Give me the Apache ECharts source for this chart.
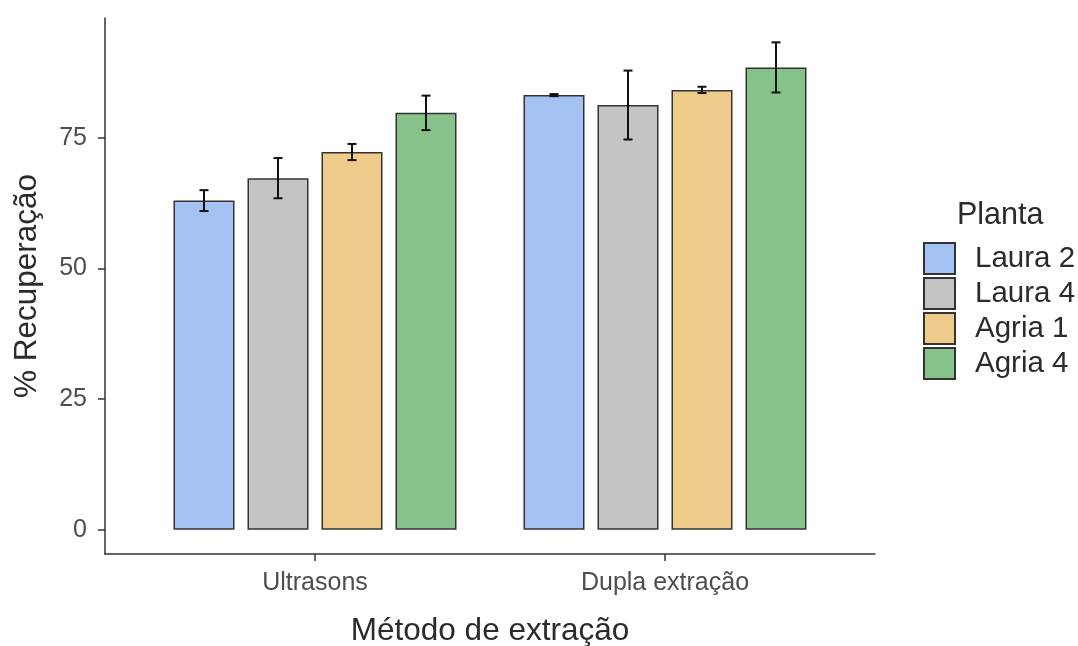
<!DOCTYPE html>
<html>
<head>
<meta charset="utf-8">
<script src="https://cdn.jsdelivr.net/npm/echarts@6/dist/echarts.min.js"></script>
<style>html,body{margin:0;padding:0;background:#fff}#c{width:1078px;height:646px}</style>
</head>
<body>
<div id="c"></div>
<script>
const categories = ['Ultrasons', 'Dupla extração'];
const plants = ['Laura 2', 'Laura 4', 'Agria 1', 'Agria 4'];
const laura2 = [63.0, 83.2];
const laura4 = [67.3, 81.3];
const agria1 = [72.3, 84.2];
const agria4 = [79.8, 88.5];
const laura2Err = [2.0, 0.2];
const laura4Err = [3.85, 6.6];
const agria1Err = [1.55, 0.6];
const agria4Err = [3.3, 4.8];
const yTicks = [0, 25, 50, 75];

const means = [laura2, laura4, agria1, agria4];
const errs = [laura2Err, laura4Err, agria1Err, agria4Err];
const colors = ['#A4C2F4', '#C4C4C4', '#EFCB8B', '#86C289'];

const BAR_W = 61, BAR_GAP = 13, CAP = 4.5;
const FONT = '"Liberation Sans", Arial, sans-serif';
const yMin = -4.665, yMax = 97.965;

const series = [];
plants.forEach((p, i) => {
  series.push({
    name: p, type: 'bar', xAxisIndex: 1, yAxisIndex: 1,
    data: means[i], barWidth: BAR_W, barGap: (BAR_GAP / BAR_W * 100) + '%',
    itemStyle: { color: colors[i], borderColor: '#333333', borderWidth: 1.5 },
    emphasis: { disabled: true }, z: 2
  });
});
plants.forEach((p, i) => {
  const off = (i - (plants.length - 1) / 2) * (BAR_W + BAR_GAP);
  series.push({
    name: 'err' + i, type: 'custom', xAxisIndex: 1, yAxisIndex: 1, z: 5,
    data: means[i].map((m, k) => [k, m - errs[i][k], m + errs[i][k]]),
    renderItem: function (params, api) {
      const lo = api.coord([api.value(0), api.value(1)]);
      const hi = api.coord([api.value(0), api.value(2)]);
      const x = lo[0] + off;
      const st = { stroke: '#111', lineWidth: 2 };
      return { type: 'group', children: [
        { type: 'line', shape: { x1: x, y1: lo[1], x2: x, y2: hi[1] }, style: st },
        { type: 'line', shape: { x1: x - CAP, y1: lo[1], x2: x + CAP, y2: lo[1] }, style: st },
        { type: 'line', shape: { x1: x - CAP, y1: hi[1], x2: x + CAP, y2: hi[1] }, style: st }
      ]};
    }
  });
});

const chart = echarts.init(document.getElementById('c'));
chart.setOption({
  backgroundColor: '#ffffff',
  animation: false,
  textStyle: { fontFamily: FONT },
  title: { text: 'Planta', left: 957, top: 200, padding: 0, textStyle: { fontSize: 30.5, fontWeight: 'normal', color: '#2b2b2b', fontFamily: FONT } },
  legend: {
    data: plants, orient: 'vertical', left: 923, top: 242, padding: 0,
    itemWidth: 31, itemHeight: 31, itemGap: 2, icon: 'rect',
    textStyle: { fontSize: 29.5, color: '#2b2b2b', padding: [0, 0, 0, 15], fontFamily: FONT },
    selectedMode: false
  },
  grid: [
    { left: 105, right: 203, top: 18, bottom: 92, outerBoundsMode: 'none', containLabel: false },
    { left: 140, right: 238, top: 18, bottom: 92, outerBoundsMode: 'none', containLabel: false }
  ],
  xAxis: [
    { type: 'value', gridIndex: 0, min: 0.4, max: 2.6,
      axisLine: { show: true, onZero: false, lineStyle: { color: '#333', width: 1.5 } },
      axisTick: { show: false }, axisLabel: { show: false }, splitLine: { show: false } },
    { type: 'category', gridIndex: 1, data: categories,
      axisLine: { show: false, onZero: false },
      axisTick: { show: true, alignWithLabel: true, length: 7, lineStyle: { color: '#333', width: 1.5 } },
      axisLabel: { fontSize: 25, color: '#4D4D4D', margin: 17, fontFamily: FONT },
      name: 'Método de extração', nameLocation: 'middle', nameGap: 61,
      nameTextStyle: { fontSize: 31.5, color: '#2b2b2b', fontFamily: FONT } }
  ],
  yAxis: [
    { type: 'value', gridIndex: 0, min: yMin, max: yMax,
      axisLine: { show: true, onZero: false, lineStyle: { color: '#333', width: 1.5 } },
      axisTick: { show: true, length: 7, customValues: yTicks, lineStyle: { color: '#333', width: 1.5 } },
      axisLabel: { fontSize: 25, color: '#4D4D4D', margin: 18, customValues: yTicks, fontFamily: FONT },
      splitLine: { show: false },
      name: '% Recuperação', nameLocation: 'middle', nameGap: 62, nameRotate: 90,
      nameTextStyle: { fontSize: 31.5, color: '#2b2b2b', fontFamily: FONT } },
    { type: 'value', gridIndex: 1, min: yMin, max: yMax, show: false }
  ],
  series: series
});
</script>
</body>
</html>
